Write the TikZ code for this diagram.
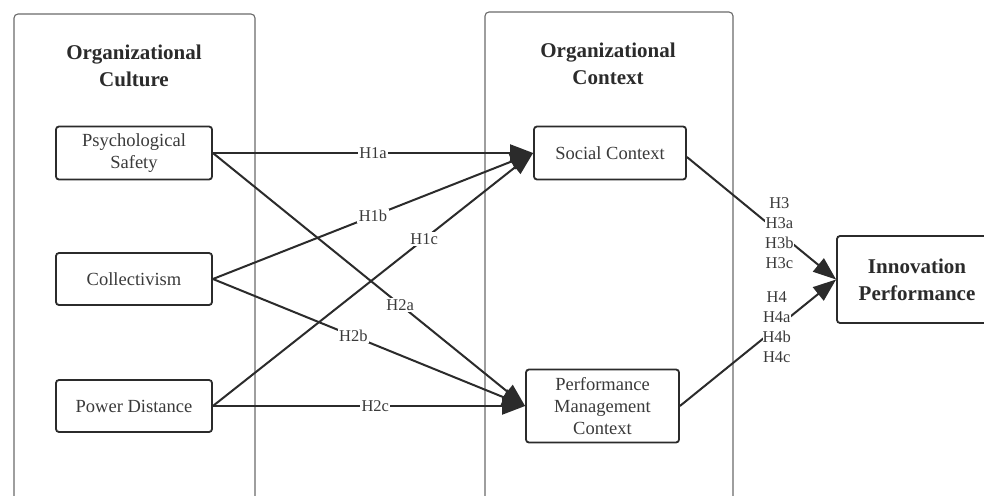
\documentclass[tikz,border=0pt]{standalone}
\usepackage{fontspec}
\setmainfont{Liberation Serif}
\usetikzlibrary{arrows.meta}
\definecolor{linec}{HTML}{2B2B2B}
\definecolor{textc}{HTML}{3A3A3A}
\definecolor{framec}{HTML}{6A6A6A}
\begin{document}
\begin{tikzpicture}[x=1pt,y=-1pt,
  box/.style={draw=linec,line width=1.8pt,rounded corners=3pt,fill=white,
    text=textc,align=center,inner sep=0pt,font=\fontsize{18.5}{22}\selectfont},
  title/.style={text=linec,align=center,font=\fontsize{21}{27}\selectfont\bfseries},
  frame/.style={draw=framec,line width=1.1pt,rounded corners=4pt},
  link/.style={draw=linec,line width=2pt,-{Triangle[length=23pt,width=17pt]}},
  hlab/.style={fill=white,text=textc,inner sep=1.5pt,align=center,
    font=\fontsize{16.5}{20}\selectfont}]
\useasboundingbox (0,0) rectangle (984,495);
\fill[white] (0,0) rectangle (984,495);
% frames
\draw[frame] (14,500) -- (14,14) -- (255,14) -- (255,500);
\draw[frame] (485,500) -- (485,12) -- (733,12) -- (733,500);
% titles
\node[title] (t1) at (134,66) {Organizational\\Culture};
\node[title] (t2) at (608,64) {Organizational\\Context};
% boxes
\node[box,minimum width=156pt,minimum height=53pt] (ps) at (134,153) {Psychological\\Safety};
\node[box,minimum width=156pt,minimum height=52pt] (co) at (134,279) {Collectivism};
\node[box,minimum width=156pt,minimum height=52pt] (pd) at (134,406) {Power Distance};
\node[box,minimum width=152pt,minimum height=53pt] (sc) at (610,153) {Social Context};
\node[box,minimum width=153pt,minimum height=73pt] (pm) at (602.5,406) {Performance\\Management\\Context};
\node[box,minimum width=160pt,minimum height=87pt,font=\fontsize{21}{27}\selectfont\bfseries,text=linec] (ip) at (917,279.5) {Innovation\\Performance};
% links
\draw[link] (ps.east) -- node[hlab,pos=0.5] {H1a} (sc.west);
\draw[link] (co.east) -- node[hlab,pos=0.5] {H1b} (sc.west);
\draw[link] (pd.east) -- node[hlab,pos=0.66] {H1c} (sc.west);
\draw[link] (ps.east) -- node[hlab,pos=0.6] {H2a} (pm.west);
\draw[link] (co.east) -- node[hlab,pos=0.45] {H2b} (pm.west);
\draw[link] (pd.east) -- node[hlab,pos=0.52] {H2c} (pm.west);
\draw[link] ([yshift=-4pt]sc.east) -- node[hlab,pos=0.62,inner sep=0pt] {H3\\H3a\\H3b\\H3c} (ip.west);
\draw[link] (pm.east) -- node[hlab,pos=0.62,inner sep=0pt] {H4\\H4a\\H4b\\H4c} (ip.west);
\end{tikzpicture}
\end{document}
